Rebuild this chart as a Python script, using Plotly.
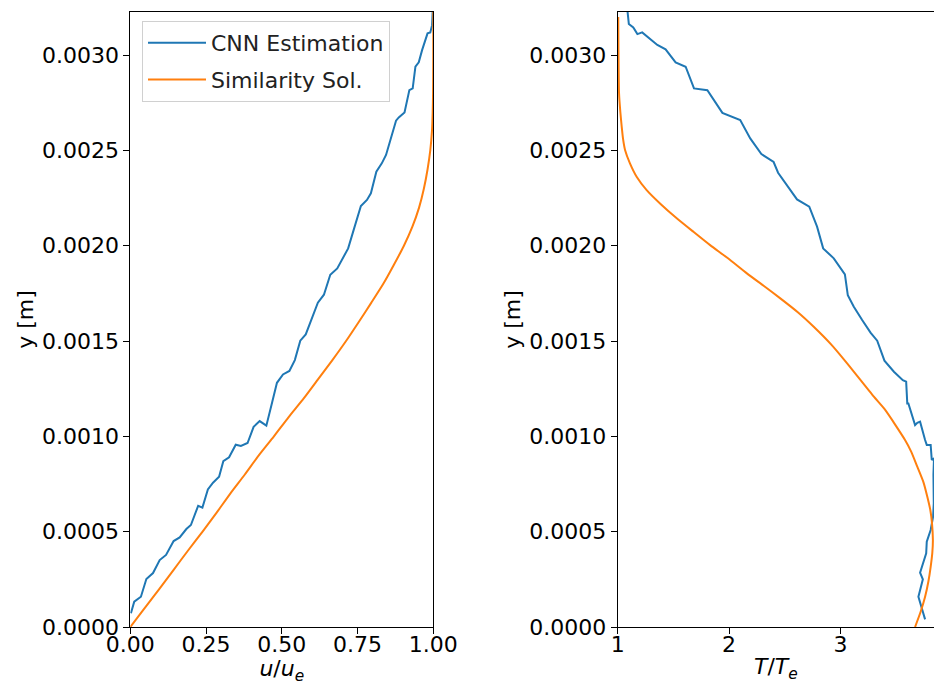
import plotly.graph_objects as go

# ---------------- data ----------------
# Left panel: u/u_e vs y
cnn_u = [0.002, 0.013, 0.035, 0.053, 0.075, 0.097, 0.118, 0.143, 0.163, 0.185, 0.200, 0.224, 0.238,
         0.256, 0.273, 0.293, 0.307, 0.326, 0.348, 0.365, 0.387, 0.407, 0.427, 0.449, 0.468, 0.484,
         0.504, 0.525, 0.543, 0.561, 0.579, 0.600, 0.619, 0.639, 0.660, 0.683, 0.701, 0.719, 0.737,
         0.761, 0.781, 0.794, 0.812, 0.830, 0.844, 0.860, 0.877, 0.886, 0.905, 0.921, 0.932, 0.941,
         0.952, 0.963, 0.974, 0.981, 0.990, 0.996, 0.998]
cnn_u_y = [0.000072, 0.000133, 0.000159, 0.000252, 0.000283, 0.000351, 0.000378, 0.000451, 0.000470,
           0.000514, 0.000535, 0.000636, 0.000626, 0.000722, 0.000757, 0.000788, 0.000870, 0.000890,
           0.000956, 0.000950, 0.000965, 0.001050, 0.001080, 0.001056, 0.001178, 0.001281, 0.001325,
           0.001343, 0.001400, 0.001502, 0.001535, 0.001619, 0.001701, 0.001743, 0.001848, 0.001881,
           0.001934, 0.001986, 0.002082, 0.002208, 0.002240, 0.002275, 0.002388, 0.002432, 0.002476,
           0.002563, 0.002656, 0.002673, 0.002699, 0.002816, 0.002825, 0.002939, 0.002962, 0.003026,
           0.003084, 0.003114, 0.003119, 0.003157, 0.003230]

sim_y = [0.0, 0.0001, 0.0002, 0.0003, 0.0004, 0.0005, 0.0006, 0.0007, 0.0008, 0.0009, 0.0010,
         0.0011, 0.0012, 0.0013, 0.0014, 0.0015, 0.0016, 0.0017, 0.0018, 0.0019, 0.0020, 0.0021,
         0.0022, 0.0023, 0.0024, 0.0025, 0.0026, 0.0027, 0.0028, 0.0029, 0.0030, 0.0031, 0.00323]
sim_u = [0.0, 0.048, 0.096, 0.143, 0.190, 0.2385, 0.285, 0.330, 0.378, 0.424, 0.474,
         0.522, 0.573, 0.620, 0.667, 0.712, 0.754, 0.795, 0.835, 0.870, 0.903, 0.931,
         0.953, 0.969, 0.981, 0.990, 0.9955, 0.998, 0.9992, 0.9997, 1.0, 1.0, 1.0]

# Right panel: T/T_e vs y
cnn_T = [3.760, 3.700, 3.740, 3.715, 3.770, 3.775, 3.810, 3.820, 3.832, 3.838, 3.835, 3.840, 3.820,
         3.810, 3.775, 3.760, 3.715, 3.690, 3.670, 3.610, 3.600, 3.590, 3.560, 3.480, 3.395, 3.330,
         3.270, 3.195, 3.120, 3.066, 3.040, 2.940, 2.845, 2.790, 2.720, 2.610, 2.520, 2.440, 2.400,
         2.290, 2.190, 2.100, 1.940, 1.805, 1.685, 1.610, 1.520, 1.430, 1.356, 1.220, 1.177, 1.140,
         1.100, 1.087]
cnn_T_y = [0.000040, 0.000159, 0.000250, 0.000285, 0.000387, 0.000447, 0.000509, 0.000544, 0.000580,
           0.000650, 0.000800, 0.000885, 0.000876, 0.000955, 0.000955, 0.000981, 0.001077, 0.001071,
           0.001059, 0.001173, 0.001173, 0.001287, 0.001295, 0.001339, 0.001397, 0.001502, 0.001544,
           0.001610, 0.001680, 0.001741, 0.001850, 0.001934, 0.001986, 0.002100, 0.002205, 0.002243,
           0.002318, 0.002383, 0.002439, 0.002481, 0.002563, 0.002659, 0.002697, 0.002816, 0.002825,
           0.002939, 0.002962, 0.003030, 0.003053, 0.003119, 0.003110, 0.003145, 0.003163, 0.003236]

sim_T_y = [0.0, 0.00008, 0.000159, 0.00024, 0.000316, 0.000390, 0.000456, 0.000544, 0.000610,
           0.000683, 0.000760, 0.000841, 0.000920, 0.000981, 0.001140, 0.001208, 0.001383, 0.001480,
           0.001575, 0.001650, 0.001724, 0.001790, 0.001855, 0.001934, 0.002003, 0.002073, 0.002144,
           0.002222, 0.002292, 0.002362, 0.002432, 0.002502, 0.002560, 0.002624, 0.002700, 0.002800,
           0.002950, 0.003100, 0.003200]
sim_T = [3.670, 3.720, 3.760, 3.790, 3.810, 3.825, 3.830, 3.822, 3.808,
         3.780, 3.745, 3.690, 3.635, 3.580, 3.400, 3.300, 3.060, 2.920,
         2.760, 2.620, 2.460, 2.310, 2.160, 1.990, 1.830, 1.680, 1.530,
         1.380, 1.260, 1.170, 1.110, 1.066, 1.048, 1.036, 1.024, 1.012,
         1.008, 1.006, 1.005]

x_ticks_left = [0.0, 0.25, 0.5, 0.75, 1.0]
x_ticks_right = [1, 2, 3]
y_ticks = [0.0, 0.0005, 0.0010, 0.0015, 0.0020, 0.0025, 0.0030]

BLUE = "#1f77b4"
ORANGE = "#ff7f0e"
FONT = "DejaVu Sans"
FS = 22

W, H = 934, 685
fig = go.Figure()
fig.add_trace(go.Scatter(x=cnn_u, y=cnn_u_y, mode="lines", name="CNN Estimation",
                         line=dict(color=BLUE, width=2), xaxis="x", yaxis="y", legendgroup="a"))
fig.add_trace(go.Scatter(x=sim_u, y=sim_y, mode="lines", name="Similarity Sol.",
                         line=dict(color=ORANGE, width=2, shape="spline", smoothing=0.6),
                         xaxis="x", yaxis="y", legendgroup="b"))
fig.add_trace(go.Scatter(x=cnn_T, y=cnn_T_y, mode="lines", showlegend=False,
                         line=dict(color=BLUE, width=2), xaxis="x2", yaxis="y2"))
fig.add_trace(go.Scatter(x=sim_T, y=sim_T_y, mode="lines", showlegend=False,
                         line=dict(color=ORANGE, width=2, shape="spline", smoothing=0.6),
                         xaxis="x2", yaxis="y2"))

ytop = 0.003226
y_dom = [1 - 627 / H, 1 - 12 / H]

axis_common = dict(showgrid=False, zeroline=False, showline=True, linecolor="black", linewidth=1,
                   ticks="outside", ticklen=6, tickwidth=1, tickcolor="black", automargin=False,
                   tickfont=dict(family=FONT, size=FS, color="black"))

fig.update_layout(
    width=W, height=H,
    margin=dict(l=0, r=0, t=0, b=0, pad=0, autoexpand=False),
    paper_bgcolor="white", plot_bgcolor="white",
    font=dict(family=FONT, size=FS, color="black"),
    showlegend=True,
    legend=dict(x=142 / W, y=1 - 21 / H, xanchor="left", yanchor="top",
                bordercolor="#d0d0d0", borderwidth=1, bgcolor="rgba(255,255,255,0.8)",
                font=dict(family=FONT, size=FS, color="#222222"),
                itemwidth=58, traceorder="grouped", tracegroupgap=5),
    xaxis=dict(axis_common, domain=[130.3 / W, 433.3 / W], range=[0, 1], anchor="y",
               mirror=True, tickvals=x_ticks_left, ticktext=[f"{v:.2f}" for v in x_ticks_left],
               ticklabelstandoff=-8,
               title=dict(text="<i>u</i>/<i>u</i><sub><i>e</i></sub>",
                          font=dict(family=FONT, size=FS), standoff=2)),
    yaxis=dict(axis_common, domain=y_dom, range=[0, ytop], anchor="x", mirror=True,
               tickvals=y_ticks, ticktext=[f"{v:.4f}" for v in y_ticks],
               title=dict(text="y [m]", font=dict(family=FONT, size=FS), standoff=2)),
    xaxis2=dict(axis_common, domain=[617.7 / W, 1.0], range=[1, 3.84], anchor="y2",
                mirror=True, tickvals=x_ticks_right, ticktext=[str(v) for v in x_ticks_right],
                ticklabelstandoff=-8,
                title=dict(text="<i>T</i>/<i>T</i><sub><i>e</i></sub>",
                           font=dict(family=FONT, size=FS), standoff=2)),
    yaxis2=dict(axis_common, domain=y_dom, range=[0, ytop], anchor="x2", mirror=False,
                tickvals=y_ticks, ticktext=[f"{v:.4f}" for v in y_ticks],
                title=dict(text="y [m]", font=dict(family=FONT, size=FS), standoff=2)),
)

fig.write_html("out.html")
